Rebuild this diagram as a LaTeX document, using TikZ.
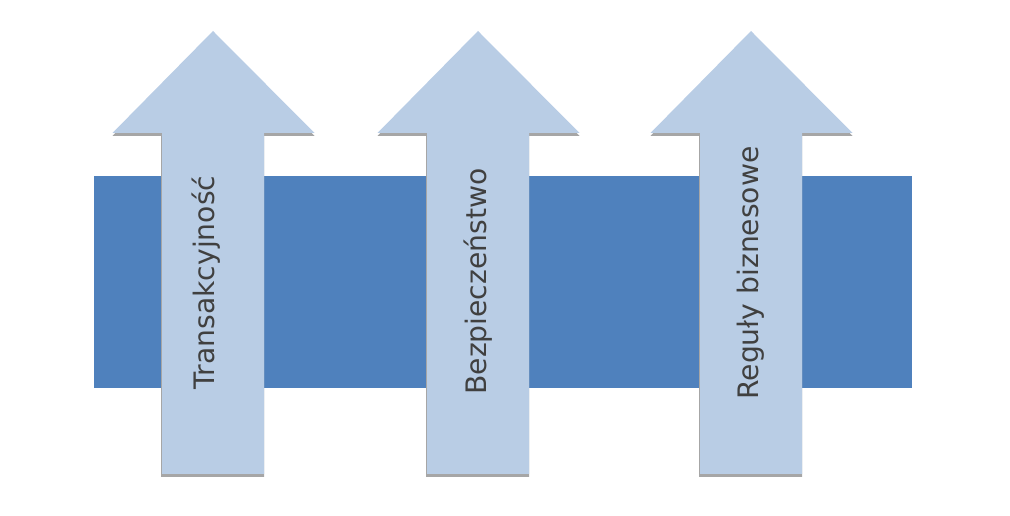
\documentclass[tikz,border=0pt]{standalone}
\usepackage{fontspec}
\setmainfont{DejaVu Sans}
\definecolor{band}{HTML}{4F81BD}
\definecolor{arrowfill}{HTML}{B9CDE5}
\definecolor{shade}{HTML}{A6A6A6}
\definecolor{label}{HTML}{404040}
\begin{document}
\begin{tikzpicture}[x=1pt,y=1pt,
  bandbox/.style={fill=band, draw=none},
  uparrow/.style={fill=arrowfill, draw=none},
  arrowshade/.style={fill=shade, draw=none},
  arrowlabel/.style={rotate=90, text=label, font=\fontsize{28.2}{32}\selectfont, inner sep=0pt}]
\useasboundingbox (0,0) rectangle (1010,516);
% horizontal band
\node[bandbox, minimum width=818pt, minimum height=212pt, inner sep=0pt, anchor=south west] (band) at (94,128) {};
% up arrows: centre x, apex at y=485, head base at 383, shaft bottom at 42
\foreach \cx/\nm in {213/a1, 478/a2, 751/a3}{
  \fill[arrowshade] (\cx-52,39) -- (\cx-52,380) -- (\cx-100.5,380) -- (\cx,482) -- (\cx+101.5,380) -- (\cx+51,380) -- (\cx+51,39) -- cycle;
  \fill[uparrow] (\cx-51,42) -- (\cx-51,383) -- (\cx-100.5,383) -- (\cx,485) -- (\cx+101.5,383) -- (\cx+51,383) -- (\cx+51,42) -- cycle;
  \coordinate (\nm) at (\cx,42);
}
\node[arrowlabel] (t1) at (206.5,233.5) {Transakcyjność};
\node[arrowlabel] (t2) at (478,234.5) {Bezpieczeństwo};
\node[arrowlabel] (t3) at (750.5,243) {Reguły biznesowe};
\end{tikzpicture}
\end{document}
